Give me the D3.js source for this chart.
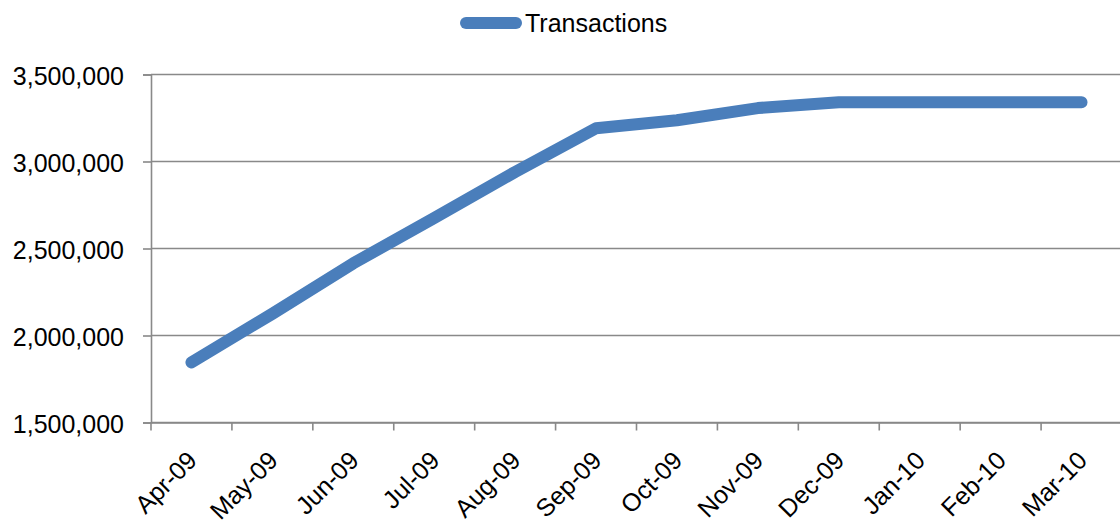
<!DOCTYPE html>
<html>
<head>
	<meta charset="utf-8">
	<script src="https://d3js.org/d3.v7.min.js"></script>
	<title>Transactions</title>
	<style>
		body { margin: 0; background: #fff; }
		text { font-family: Arial, "Liberation Sans", sans-serif; fill: #000; }
	</style>
</head>
<body>
	<div id="chart"></div>

	<script type="text/javascript">

		// data
		var months = ["Apr-09", "May-09", "Jun-09", "Jul-09", "Aug-09", "Sep-09",
		              "Oct-09", "Nov-09", "Dec-09", "Jan-10", "Feb-10", "Mar-10"];
		var transactions = [1845000, 2125000, 2415000, 2675000, 2940000, 3191000,
		                    3237000, 3307000, 3341000, 3341000, 3341000, 3341000];
		var yTicks = [1500000, 2000000, 2500000, 3000000, 3500000];
		var seriesName = "Transactions";

		var svgwidth = 1120;
		var svgheight = 523;
		var plotLeft = 151, plotRight = 1122, plotTop = 74.5, plotBottom = 422.5;
		var gridColor = "#898989";
		var lineColor = "#4a7ebb";
		var fontSize = 25;

		var svg = d3.select("#chart").append("svg")
			.attr("width", svgwidth)
			.attr("height", svgheight);

		var xScale = d3.scaleBand()
			.domain(months)
			.range([plotLeft, plotRight]);

		var yScale = d3.scaleLinear()
			.domain([1500000, 3500000])
			.range([plotBottom, plotTop]);

		// gridlines
		svg.selectAll(".grid")
			.data(yTicks).enter().append("line")
			.attr("class", "grid")
			.attr("x1", plotLeft)
			.attr("x2", svgwidth)
			.attr("y1", function(d){ return yScale(d); })
			.attr("y2", function(d){ return yScale(d); })
			.attr("stroke", gridColor)
			.attr("stroke-width", 1.6);

		// y axis
		var yAxis = d3.axisLeft(yScale)
			.tickValues(yTicks)
			.tickSize(8)
			.tickPadding(19)
			.tickFormat(d3.format(","));

		var gy = svg.append("g")
			.attr("transform", "translate(" + plotLeft + ",0)")
			.call(yAxis);
		gy.select(".domain").attr("stroke", gridColor).attr("stroke-width", 1.6);
		gy.selectAll(".tick line").attr("stroke", gridColor).attr("stroke-width", 1.6);
		gy.selectAll(".tick text")
			.attr("font-size", fontSize)
			.attr("font-family", "Arial, 'Liberation Sans', sans-serif")
			.attr("fill", "#000")
			.attr("dy", "0.4em");

		// x axis
		var xAxis = d3.axisBottom(xScale)
			.tickSize(0)
			.tickFormat("");

		var gx = svg.append("g")
			.attr("transform", "translate(0," + plotBottom + ")")
			.call(xAxis);
		gx.select(".domain").attr("stroke", gridColor).attr("stroke-width", 1.6);

		// category boundary ticks
		gx.selectAll(".bound")
			.data(months).enter().append("line")
			.attr("class", "bound")
			.attr("x1", function(d){ return xScale(d); })
			.attr("x2", function(d){ return xScale(d); })
			.attr("y1", 0)
			.attr("y2", 8)
			.attr("stroke", gridColor)
			.attr("stroke-width", 1.6);

		svg.selectAll(".xlabel")
			.data(months).enter().append("text")
			.attr("class", "xlabel")
			.attr("font-size", fontSize)
			.attr("text-anchor", "end")
			.attr("transform", function(d){
				var cx = xScale(d) + xScale.bandwidth() / 2;
				return "translate(" + (cx + 7) + "," + 462 + ") rotate(-45)";
			})
			.text(function(d){ return d; });

		// the series line
		var line = d3.line()
			.x(function(d, i){ return xScale(months[i]) + xScale.bandwidth() / 2; })
			.y(function(d){ return yScale(d); });

		svg.append("path")
			.datum(transactions)
			.attr("d", line)
			.attr("fill", "none")
			.attr("stroke", lineColor)
			.attr("stroke-width", 12)
			.attr("stroke-linecap", "round")
			.attr("stroke-linejoin", "round");

		// legend
		var legend = svg.append("g");
		legend.append("line")
			.attr("x1", 466).attr("x2", 516)
			.attr("y1", 23).attr("y2", 23)
			.attr("stroke", lineColor)
			.attr("stroke-width", 12)
			.attr("stroke-linecap", "round");
		legend.append("text")
			.attr("x", 525)
			.attr("y", 31.5)
			.attr("font-size", fontSize)
			.text(seriesName);

	</script>
</body>
</html>
